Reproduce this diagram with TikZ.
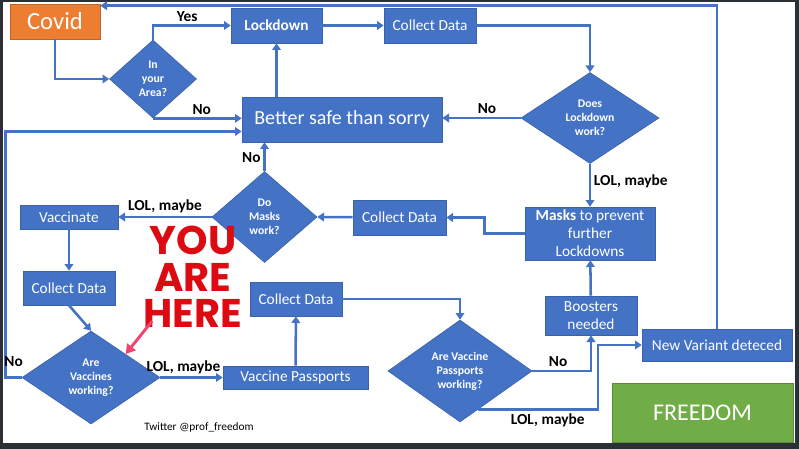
\documentclass[tikz,border=0pt]{standalone}
\usepackage{fontspec}
\setmainfont{Carlito}
\newfontfamily\herefont{Poppins}
\usepackage{tikz}
\usetikzlibrary{shapes.geometric, arrows.meta, calc}

\definecolor{flowblue}{HTML}{4472C4}
\definecolor{boxedge}{HTML}{3A62AC}
\definecolor{covidorange}{HTML}{ED7D31}
\definecolor{freegreen}{HTML}{70AD47}
\definecolor{framegray}{HTML}{2B3035}
\definecolor{herered}{HTML}{DD0A12}
\definecolor{pointpink}{HTML}{F2436F}

\begin{document}
\begin{tikzpicture}[x=0.75pt, y=-0.75pt,
box/.style={rectangle, fill=flowblue, draw=boxedge, line width=0.5pt, text=white, inner sep=0pt, align=center, font=\fontsize{11.5}{13.5}\selectfont},
choice/.style={diamond, aspect=1.5, fill=flowblue, draw=boxedge, line width=0.5pt, text=white, inner sep=0pt, align=center, font=\bfseries\fontsize{8.8}{10.5}\selectfont},
flow/.style={draw=flowblue, line width=1.9pt, -{Triangle[width=6.5pt,length=5pt]}},
answer/.style={font=\bfseries\fontsize{11.5}{13}\selectfont, text=black, inner sep=2pt},
pointer/.style={draw=pointpink, line width=2.2pt, -{Triangle[width=8pt,length=7pt]}},
]

% Frame
\useasboundingbox (0,0) rectangle (799,449);
\fill[framegray] (0,0) rectangle (799,449);
\fill[white] (3,2) rectangle (795,443);

% Top row
\node[box, fill=covidorange, draw=covidorange!80!black, minimum width=67.5pt, minimum height=26.25pt, font=\fontsize{18.5}{20}\selectfont] (covid) at (55,21.5) {Covid};
\node[choice, minimum width=65.25pt, minimum height=58.5pt] (area) at (153,79) {In\\your\\Area?};
\node[box, minimum width=68.25pt, minimum height=26.25pt, font=\bfseries\fontsize{11.5}{13.5}\selectfont] (lock) at (276.5,25.5) {Lockdown};
\node[box, minimum width=69pt, minimum height=26.25pt] (collect1) at (430,25.5) {Collect Data};
\node[choice, minimum width=103.5pt, minimum height=68.25pt] (works) at (590,118) {Does\\Lockdown\\work?};
\node[box, minimum width=150pt, minimum height=33.75pt, font=\fontsize{15}{17}\selectfont] (better) at (342,119.5) {Better safe than sorry};

% Middle row
\node[box, minimum width=97.5pt, minimum height=39.75pt] (masksbox) at (590,233.5) {\textbf{Masks} to prevent\\further\\Lockdowns};
\node[box, minimum width=69.75pt, minimum height=26.25pt] (collect2) at (399.5,217.5) {Collect Data};
\node[choice, minimum width=78.75pt, minimum height=68.25pt] (maskq) at (264.5,217) {Do\\Masks\\work?};
\node[box, minimum width=73.5pt, minimum height=18pt] (vacc) at (69,217) {Vaccinate};
\node[box, minimum width=69pt, minimum height=25.5pt] (collect3) at (69,288) {Collect Data};

% Bottom row
\node[choice, minimum width=103.5pt, minimum height=69.75pt] (vaccq) at (91,377.5) {Are\\Vaccines\\working?};
\node[box, minimum width=108.75pt, minimum height=17.25pt] (passp) at (295.5,377.5) {Vaccine Passports};
\node[box, minimum width=69pt, minimum height=25.5pt] (collect4) at (296,299) {Collect Data};
\node[choice, minimum width=108pt, minimum height=76.5pt] (passq) at (460,371) {Are Vaccine\\Passports\\working?};
\node[box, minimum width=69pt, minimum height=29.25pt] (boost) at (591,315.5) {Boosters\\needed};
\node[box, minimum width=112.5pt, minimum height=24pt] (newv) at (717,345) {New Variant deteced};
\node[box, fill=freegreen, draw=freegreen!80!black, minimum width=135.75pt, minimum height=44.25pt, font=\fontsize{18}{20}\selectfont] (freedom) at (702.5,412.5) {FREEDOM};

% Notes
\node[font=\fontsize{8.5}{10}\selectfont, inner sep=0pt] (twitter) at (199,427) {Twitter @prof\_freedom};
\node[font=\herefont\bfseries\fontsize{30}{27.5}\selectfont, text=herered, align=center, inner sep=0pt] (here) at (193,277) {YOU\\ARE\\HERE};

% Draw connecting arrows
\draw[flow] (covid.south) |- (area.west);
\draw[flow] (area.north) |- node[answer, above, pos=0.72] {Yes} (lock.west);
\draw[flow] (area.south) -- node[answer, above, pos=0.55] {No} (area.south -| better.west);
\draw[flow] (lock) -- (collect1);
\draw[flow] (collect1.east) -| (works.north);
\draw[flow] (works.west) -- node[answer, above, pos=0.43] {No} (works.west -| better.east);
\draw[flow] (better.north -| lock) -- (lock.south);
\draw[flow] (works.south) -- node[answer, right, pos=0.41] {LOL, maybe} (masksbox.north);
\draw[flow] (masksbox.west) -- ++(-40,0) |- (collect2.east);
\draw[flow] (collect2) -- (maskq.east);
\draw[flow] (maskq.north) -- node[answer, left, pos=0.47] {No} (maskq.north |- better.south);
\draw[flow] (maskq.west) -- node[answer, above, pos=0.5] {LOL, maybe} (vacc.east);
\draw[flow] (vacc) -- (collect3);
\draw[flow] (collect3.south) -- (vaccq.north);
\draw[flow] (vaccq.west) -- node[answer, above=5pt] {No} ++(-16,0) |- ($(better.west)+(0,12)$);
\draw[flow] (vaccq.east) -- node[answer, above, pos=0.37] {LOL, maybe} (passp.west);
\draw[flow] (passp) -- (collect4);
\draw[flow] (collect4.east) -| (passq.north);
\draw[flow] (passq.east) -| node[answer, above, pos=0.22] {No} (boost.south);
\draw[flow] (boost) -- (masksbox);
\draw[flow] ($(passq.south)!0.25!(passq.east)$) -- node[answer, below, pos=0.58] {LOL, maybe} ++(120,0) |- (newv.west);
\draw[flow] (newv.north) |- ($(covid.north east)+(0,2)$);
\draw[pointer] ($(here.south)+(-41,-7)$) -- (vaccq.north east);

\end{tikzpicture}
\end{document}
